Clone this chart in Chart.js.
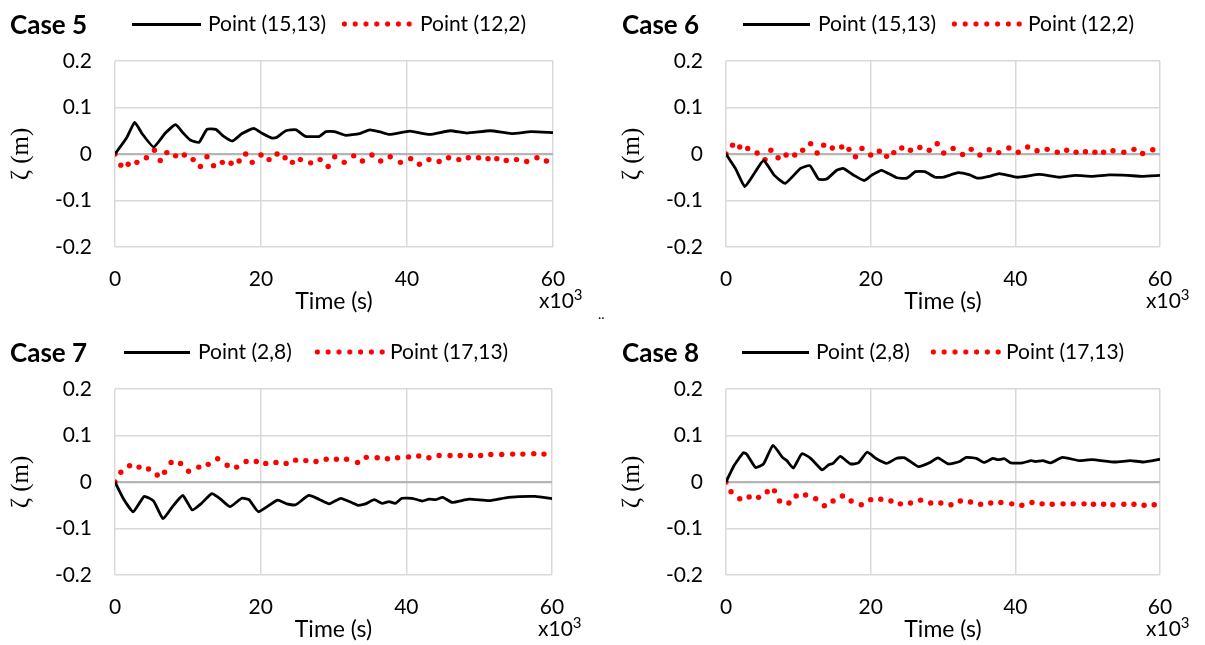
<!DOCTYPE html>
<html>
<head>
<meta charset="utf-8">
<script src="https://cdn.jsdelivr.net/npm/chart.js@4.4.0/dist/chart.umd.min.js"></script>
<style>
	body { margin: 0; background: #fff; width: 1205px; height: 645px; overflow: hidden; position: relative; font-family: Lato, sans-serif; color: #000; }
	canvas { position: absolute; }
	.case { position: absolute; font: bold 26px/26px Lato; white-space: nowrap; }
	.lgLine { position: absolute; height: 3px; background: #000; }
	.lgDot { position: absolute; height: 6px; background-image: radial-gradient(circle, #ff0000 2.3px, rgba(255,0,0,0) 2.9px); background-size: 10.8px 6px; }
	.lgTxt { position: absolute; font: 21px/21px Lato; white-space: nowrap; }
	.x10 { position: absolute; font: 21px/21px Lato; white-space: nowrap; }
	.x10 sup { font-size: 15px; vertical-align: 0; position: relative; top: -8px; }
</style>
</head>
<body>

<canvas id="chart5" width="600" height="317" style="left:0px; top:0px"></canvas>
<canvas id="chart6" width="594" height="317" style="left:611px; top:0px"></canvas>
<canvas id="chart7" width="600" height="317" style="left:0px; top:328px"></canvas>
<canvas id="chart8" width="594" height="317" style="left:611px; top:328px"></canvas>

<script>
/***************************** 데이터 *****************************/
const caseNames = ['Case 5', 'Case 6', 'Case 7', 'Case 8']
const lineNames = ['Point (15,13)', 'Point (15,13)', 'Point (2,8)', 'Point (2,8)']
const dotNames = ['Point (12,2)', 'Point (12,2)', 'Point (17,13)', 'Point (17,13)']

const xTicks = [0, 20, 40, 60]
const yTicks = [-0.2, -0.1, 0, 0.1, 0.2]

// Case 5 (time x10^3 s, elevation m)
const c5LineX = [0,1.6,2.7,3.7,5.3,6.9,8.3,9.4,10.3,11.5,12.6,13.8,14.9,16.1,17.4,19.0,20.2,21.5,22.2,23.4,24.8,26.1,28.0,28.9,30.1,31.6,33.5,34.9,36.2,37.6,40.4,43.1,45.9,48.2,51.4,54.3,57.0,60]
const c5LineY = [0,0.035,0.068,0.044,0.015,0.045,0.063,0.044,0.030,0.025,0.053,0.053,0.038,0.028,0.044,0.055,0.044,0.034,0.036,0.050,0.052,0.038,0.038,0.048,0.048,0.040,0.044,0.052,0.048,0.042,0.049,0.042,0.050,0.045,0.050,0.044,0.048,0.046]
const c5DotX = [0,0.8,1.8,3.0,4.3,5.4,6.2,7.1,8.3,9.5,10.7,11.7,12.6,13.5,14.7,15.9,17.0,17.9,18.8,20.0,21.1,22.2,23.3,24.3,25.4,26.8,28.1,29.2,30.1,31.4,32.7,33.9,35.2,36.4,37.7,39.1,40.5,41.7,43.0,44.4,45.7,47.1,48.4,49.8,51.1,52.3,53.6,55.0,56.4,57.8,59.1]
const c5DotY = [0,-0.024,-0.022,-0.018,-0.008,0.008,-0.014,0.003,-0.004,-0.002,-0.012,-0.027,-0.006,-0.025,-0.018,-0.020,-0.015,0,-0.018,-0.002,-0.012,0,-0.008,-0.018,-0.012,-0.019,-0.012,-0.027,-0.006,-0.018,-0.004,-0.015,-0.002,-0.015,-0.006,-0.018,-0.010,-0.022,-0.012,-0.016,-0.008,-0.012,-0.008,-0.008,-0.010,-0.010,-0.014,-0.012,-0.016,-0.008,-0.015]

// Case 6
const c6LineX = [0,1.3,2.6,3.9,5.2,6.7,8.2,10.3,11.6,12.8,13.9,15.3,16.2,17.6,19.1,20.1,21.5,23.6,25.0,26.2,27.5,28.9,30.0,32.1,33.7,34.8,36.4,37.8,40.3,43.3,46.1,48.3,50.6,53.0,55.5,57.5,60]
const c6LineY = [0,-0.031,-0.070,-0.042,-0.014,-0.046,-0.063,-0.031,-0.025,-0.054,-0.054,-0.035,-0.031,-0.045,-0.057,-0.046,-0.035,-0.051,-0.052,-0.038,-0.038,-0.050,-0.050,-0.040,-0.045,-0.052,-0.048,-0.042,-0.050,-0.044,-0.050,-0.046,-0.048,-0.045,-0.046,-0.048,-0.046]
const c6DotX = [0,0.9,1.9,3.0,4.3,5.4,6.2,7.2,8.3,9.5,10.6,11.7,12.6,13.5,14.7,16.0,17.0,17.9,18.8,20.0,21.2,22.2,23.2,24.3,25.5,26.8,28.1,29.2,30.1,31.4,32.7,33.9,35.1,36.4,37.7,39.1,40.4,41.7,43.0,44.4,45.8,47.1,48.4,49.7,51.0,52.2,53.5,55.0,56.4,57.6,59.0]
const c6DotY = [0,0.019,0.015,0.012,0.002,-0.012,0.008,-0.008,-0.002,-0.002,0.008,0.022,0.002,0.019,0.013,0.015,0.010,-0.006,0.012,-0.002,0.006,-0.005,0.003,0.013,0.008,0.014,0.008,0.022,0.002,0.012,-0.001,0.010,-0.002,0.009,0.003,0.013,0.004,0.015,0.007,0.010,0.004,0.008,0.004,0.005,0.004,0.004,0.007,0.004,0.010,0.001,0.009]

// Case 7
const c7LineX = [0,1.2,2.5,4.0,5.3,6.6,7.8,9.3,10.6,11.8,13.3,14.5,15.8,17.4,18.4,19.7,22.3,23.6,24.8,26.6,28.0,29.4,31.0,32.6,33.3,34.4,35.6,36.7,37.6,38.5,39.4,40.8,42.2,43.1,44.0,45.0,46.3,48.6,51.4,54.0,57.7,60]
const c7LineY = [0,-0.037,-0.064,-0.031,-0.041,-0.079,-0.055,-0.029,-0.060,-0.047,-0.025,-0.037,-0.053,-0.035,-0.038,-0.064,-0.039,-0.047,-0.049,-0.029,-0.037,-0.047,-0.035,-0.045,-0.050,-0.047,-0.038,-0.046,-0.042,-0.046,-0.035,-0.035,-0.041,-0.037,-0.038,-0.033,-0.044,-0.037,-0.040,-0.033,-0.031,-0.036]
const c7DotX = [0,0.8,2.0,3.3,4.6,5.8,6.8,7.7,9.0,10.1,11.5,12.8,14.1,15.4,16.7,18.0,19.4,20.7,22.1,23.5,24.8,26.2,27.6,29.0,30.4,31.8,33.3,34.5,36.0,37.4,38.8,40.3,41.7,43.1,44.5,46.0,47.4,48.8,50.2,51.6,53.1,54.6,56.0,57.5,58.9]
const c7DotY = [0,0.021,0.035,0.032,0.028,0.015,0.021,0.042,0.040,0.023,0.032,0.038,0.050,0.036,0.032,0.044,0.044,0.040,0.042,0.040,0.047,0.046,0.044,0.049,0.049,0.049,0.042,0.053,0.052,0.050,0.052,0.054,0.056,0.052,0.057,0.057,0.057,0.057,0.057,0.059,0.059,0.060,0.060,0.061,0.060]

// Case 8
const c8LineX = [0,1.1,2.4,2.9,4.1,5.2,6.5,7.8,8.4,9.3,10.5,11.7,13.3,14.2,14.8,15.8,17.2,18.3,19.5,20.8,22.2,23.6,24.7,26.6,28.2,29.3,30.7,32.3,33.2,34.6,35.7,36.9,37.6,38.5,39.4,41.0,42.2,42.8,43.8,44.9,46.5,48.8,50.6,53.8,55.9,57.7,60]
const c8LineY = [0,0.035,0.063,0.059,0.031,0.039,0.079,0.053,0.046,0.030,0.061,0.051,0.026,0.037,0.040,0.055,0.039,0.041,0.064,0.050,0.040,0.051,0.052,0.033,0.042,0.052,0.039,0.044,0.053,0.051,0.042,0.051,0.048,0.050,0.041,0.041,0.046,0.044,0.046,0.041,0.053,0.046,0.048,0.043,0.046,0.043,0.049]
const c8DotX = [0,0.7,1.9,3.2,4.5,5.7,6.7,7.4,8.7,9.7,11.0,12.4,13.6,14.8,16.1,17.3,18.7,20.0,21.4,22.8,24.1,25.5,26.9,28.3,29.7,31.1,32.4,33.8,35.2,36.6,38.0,39.5,40.9,42.3,43.7,45.1,46.6,48.0,49.5,50.8,52.2,53.5,55.0,56.4,57.8,59.2]
const c8DotY = [0,-0.021,-0.036,-0.032,-0.033,-0.021,-0.019,-0.041,-0.045,-0.030,-0.028,-0.036,-0.051,-0.041,-0.030,-0.041,-0.049,-0.038,-0.037,-0.041,-0.047,-0.045,-0.039,-0.045,-0.045,-0.049,-0.041,-0.043,-0.048,-0.045,-0.044,-0.047,-0.050,-0.044,-0.047,-0.048,-0.047,-0.047,-0.047,-0.048,-0.048,-0.049,-0.048,-0.048,-0.050,-0.049]

/***************************** 화면 배치 *****************************/
// header / legend pieces of each panel (px)
const headers = [
	{ top: 0,   caseX: 10,  line: [132, 201], t1: 208, dots: [339, 414], t2: 420, x10: 539 },
	{ top: 0,   caseX: 622, line: [743, 810], t1: 818, dots: [949, 1022], t2: 1028, x10: 1146 },
	{ top: 328, caseX: 10,  line: [124, 190], t1: 198, dots: [312, 386], t2: 390, x10: 538 },
	{ top: 328, caseX: 622, line: [742, 809], t1: 816, dots: [928, 1002], t2: 1006, x10: 1146 }
]
const padRight = [47, 45, 48, 45]

function ById(id) {
	return document.getElementById(id);
}

function addDiv(cls, left, top, width, html) {
	let d = document.createElement('div')
	d.className = cls
	d.style.left = left + 'px'
	d.style.top = top + 'px'
	if (width) d.style.width = width + 'px'
	if (html) d.innerHTML = html
	document.body.appendChild(d)
}

function zip(xs, ys) {
	let out = []
	for (let i = 0; i < xs.length; i++) out.push({ x: xs[i], y: ys[i] })
	return out
}

/***************************** 차트 *****************************/
Chart.defaults.font.family = 'Lato'
Chart.defaults.color = '#000'

function makeChart(n, lineX, lineY, dotX, dotY) {

	let chartArea = ById('chart' + (n + 5)).getContext('2d')

	return new Chart(chartArea, {
		type: 'scatter',
		data: {
			datasets: [{
				label: lineNames[n],
				data: zip(lineX, lineY),
				showLine: true,
				borderColor: '#000',
				borderWidth: 2.8,
				borderJoinStyle: 'round',
				tension: 0.15,
				pointRadius: 0
			}, {
				label: dotNames[n],
				data: zip(dotX, dotY),
				showLine: false,
				pointRadius: 2.7,
				pointBackgroundColor: '#ff0000',
				pointBorderWidth: 0
			}]
		},
		options: {
			responsive: false,
			animation: false,
			layout: { padding: { top: 61, right: padRight[n], left: 0, bottom: 0 } },
			plugins: { legend: { display: false }, tooltip: { enabled: false } },
			scales: {
				x: {
					type: 'linear',
					min: 0,
					max: 60,
					afterBuildTicks: function(s) { s.ticks = xTicks.map(v => ({ value: v })) },
					afterFit: function(s) { s.height = 70 },
					grid: { color: '#d9d9d9', lineWidth: 1.5, drawTicks: false },
					border: { display: false },
					ticks: { padding: 20, font: { size: 21 } },
					title: { display: true, text: 'Time (s)', font: { size: 23 }, padding: { top: 0, bottom: 2 } }
				},
				y: {
					min: -0.2,
					max: 0.2,
					afterBuildTicks: function(s) { s.ticks = yTicks.map(v => ({ value: v })) },
					afterFit: function(s) { s.width = 115 },
					grid: {
						color: c => (c.tick && c.tick.value === 0) ? '#b5b5b5' : '#d9d9d9',
						lineWidth: c => (c.tick && c.tick.value === 0) ? 2.2 : 1.5,
						drawTicks: false
					},
					border: { display: false },
					ticks: { padding: 23, font: { size: 21 }, callback: v => String(Math.round(v * 10) / 10) },
					title: { display: true, text: 'ζ (m)', font: { family: 'Liberation Serif', size: 25 }, padding: { top: 6, bottom: 0 } }
				}
			}
		}
	})
}

makeChart(0, c5LineX, c5LineY, c5DotX, c5DotY)
makeChart(1, c6LineX, c6LineY, c6DotX, c6DotY)
makeChart(2, c7LineX, c7LineY, c7DotX, c7DotY)
makeChart(3, c8LineX, c8LineY, c8DotX, c8DotY)

/***************************** 제목 / 범례 *****************************/
for (let i = 0; i < headers.length; i++) {
	let h = headers[i]
	addDiv('case', h.caseX, h.top + 11, 0, caseNames[i])
	addDiv('lgLine', h.line[0], h.top + 22.5, h.line[1] - h.line[0])
	addDiv('lgTxt', h.t1, h.top + 11.5, 0, lineNames[i])
	addDiv('lgDot', h.dots[0], h.top + 21, h.dots[1] - h.dots[0])
	addDiv('lgTxt', h.t2, h.top + 11.5, 0, dotNames[i])
	addDiv('x10', h.x10, h.top + 289, 0, 'x10<sup>3</sup>')
}
addDiv('lgTxt', 598, 300, 0, '<span style="font-size:14px">..</span>')
</script>
</body>
</html>
